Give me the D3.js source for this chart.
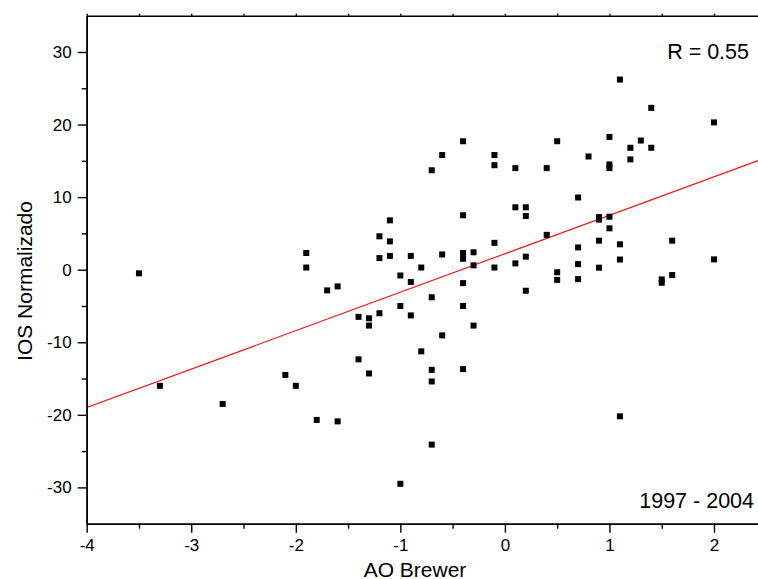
<!DOCTYPE html>
<html>
<head>
<meta charset="utf-8">
<script src="https://cdn.jsdelivr.net/npm/d3@7"></script>
<style>
  body { margin: 0; background: #fff; }
  text { font-family: "Liberation Sans", Arial, Helvetica, sans-serif; fill: #000; }
</style>
</head>
<body>
<div id="chart"></div>
<script>
// AO Brewer (x) values, one per point
let aoValues = [
  -3.5, -3.3, -2.7, -2.1, -2.0, -1.9, -1.9, -1.8, -1.7, -1.6,
  -1.6, -1.4, -1.4, -1.3, -1.3, -1.3, -1.2, -1.2, -1.2, -1.1,
  -1.1, -1.1, -1.0, -1.0, -1.0, -0.9, -0.9, -0.9, -0.8, -0.8,
  -0.7, -0.7, -0.7, -0.7, -0.7, -0.6, -0.6, -0.6, -0.4, -0.4,
  -0.4, -0.4, -0.4, -0.4, -0.4, -0.3, -0.3, -0.3, -0.1, -0.1,
  -0.1, -0.1, 0.1, 0.1, 0.1, 0.2, 0.2, 0.2, 0.2, 0.4,
  0.4, 0.5, 0.5, 0.5, 0.7, 0.7, 0.7, 0.7, 0.8, 0.9,
  0.9, 0.9, 0.9, 1.0, 1.0, 1.0, 1.0, 1.0, 1.1, 1.1,
  1.1, 1.1, 1.2, 1.2, 1.3, 1.4, 1.4, 1.5, 1.5, 1.6,
  1.6, 2.0, 2.0
];

// IOS Normalizado (y) values, same order
let iosValues = [
  -0.5, -16.0, -18.5, -14.5, -16.0, 2.3, 0.3, -20.7, -2.85, -2.3,
  -20.9, -6.5, -12.35, -6.7, -7.7, -14.3, 4.6, 1.6, -6.0, 6.8,
  3.9, 1.9, -0.8, -5.0, -29.5, 1.9, -1.7, -6.3, 0.3, -11.25,
  13.7, -3.8, -13.8, -15.4, -24.1, 15.8, 2.1, -9.05, 17.7, 7.5,
  2.3, 1.5, -1.85, -5.0, -13.7, 2.4, 0.6, -7.7, 15.8, 14.4,
  3.7, 0.3, 14.0, 8.6, 0.87, 8.6, 7.4, 1.8, -2.9, 14.0,
  4.8, 17.7, -0.35, -1.4, 9.95, 3.07, 0.77, -1.3, 15.6, 7.25,
  6.9, 4.0, 0.28, 18.3, 14.5, 14.0, 7.3, 5.7, 26.2, 3.5,
  1.4, -20.2, 16.8, 15.2, 17.8, 22.3, 16.8, -1.34, -1.8, 4.0,
  -0.74, 20.3, 1.42
];

// linear fit drawn across the frame
let fitX = [-4, 2.5];
let fitY = [-19.0, 15.45];

let xMajor = [-4, -3, -2, -1, 0, 1, 2];
let xMinor = [-3.5, -2.5, -1.5, -0.5, 0.5, 1.5];
let yMajor = [-30, -20, -10, 0, 10, 20, 30];
let yMinor = [-25, -15, -5, 5, 15, 25];

let width = 758;
let height = 579;
let plotLeft = 86.7;
let plotTop = 15.7;
let plotBottom = 523.7;
let pxPerUnit = 104.55;

// plain hyphen for negatives, like the original
let fmt = d => String(d);

let svg = d3.select("#chart").append("svg")
  .attr("width", width)
  .attr("height", height);

let x = d3.scaleLinear()
  .domain([-4, 2.5])
  .range([plotLeft, plotLeft + 6.5 * pxPerUnit]);

let y = d3.scaleLinear()
  .domain([-35, 35])
  .range([plotBottom, plotTop]);

// fit line
svg.append("line")
  .attr("x1", x(fitX[0]))
  .attr("y1", y(fitY[0]))
  .attr("x2", x(fitX[1]))
  .attr("y2", y(fitY[1]))
  .attr("stroke", "#ff0000")
  .attr("stroke-width", 1.1);

// points
let size = 6;
svg.append("g")
  .selectAll("rect")
  .data(d3.range(aoValues.length))
  .enter()
  .append("rect")
  .attr("x", i => x(aoValues[i]) - size / 2)
  .attr("y", i => y(iosValues[i]) - size / 2)
  .attr("width", size)
  .attr("height", size)
  .attr("fill", "#000");

// bottom axis: major + minor
svg.append("g")
  .attr("transform", `translate(0,${plotBottom})`)
  .call(d3.axisBottom(x).tickValues(xMajor).tickSize(9).tickSizeOuter(0).tickPadding(6)
    .tickFormat(fmt));
svg.append("g")
  .attr("transform", `translate(0,${plotBottom})`)
  .call(d3.axisBottom(x).tickValues(xMinor).tickSize(5).tickSizeOuter(0).tickFormat(""));

// top axis with tiny ticks
svg.append("g")
  .attr("transform", `translate(0,${plotTop})`)
  .call(d3.axisTop(x).tickValues(xMajor.concat(xMinor)).tickSize(2).tickSizeOuter(0).tickFormat(""));

// left axis: major + minor
svg.append("g")
  .attr("transform", `translate(${plotLeft},0)`)
  .call(d3.axisLeft(y).tickValues(yMajor).tickSize(9).tickSizeOuter(0).tickPadding(6)
    .tickFormat(fmt));
svg.append("g")
  .attr("transform", `translate(${plotLeft},0)`)
  .call(d3.axisLeft(y).tickValues(yMinor).tickSize(5).tickSizeOuter(0).tickFormat(""));

svg.selectAll(".domain").attr("stroke", "#000").attr("stroke-width", 1.6);
svg.selectAll(".tick line").attr("stroke", "#000").attr("stroke-width", 1.4);
svg.selectAll(".tick text")
  .attr("font-family", "'Liberation Sans', Arial, Helvetica, sans-serif")
  .attr("font-size", "17px")
  .attr("fill", "#000");

// axis titles
svg.append("text")
  .attr("x", 415)
  .attr("y", 576.5)
  .attr("text-anchor", "middle")
  .attr("font-size", "21px")
  .text("AO Brewer");

svg.append("text")
  .attr("transform", "translate(31.5,281) rotate(-90)")
  .attr("text-anchor", "middle")
  .attr("font-size", "21px")
  .text("IOS Normalizado");

// annotations
svg.append("text")
  .attr("x", 749)
  .attr("y", 59.3)
  .attr("text-anchor", "end")
  .attr("font-size", "21.5px")
  .text("R = 0.55");

svg.append("text")
  .attr("x", 754)
  .attr("y", 508.3)
  .attr("text-anchor", "end")
  .attr("font-size", "21.5px")
  .text("1997 - 2004");
</script>
</body>
</html>
